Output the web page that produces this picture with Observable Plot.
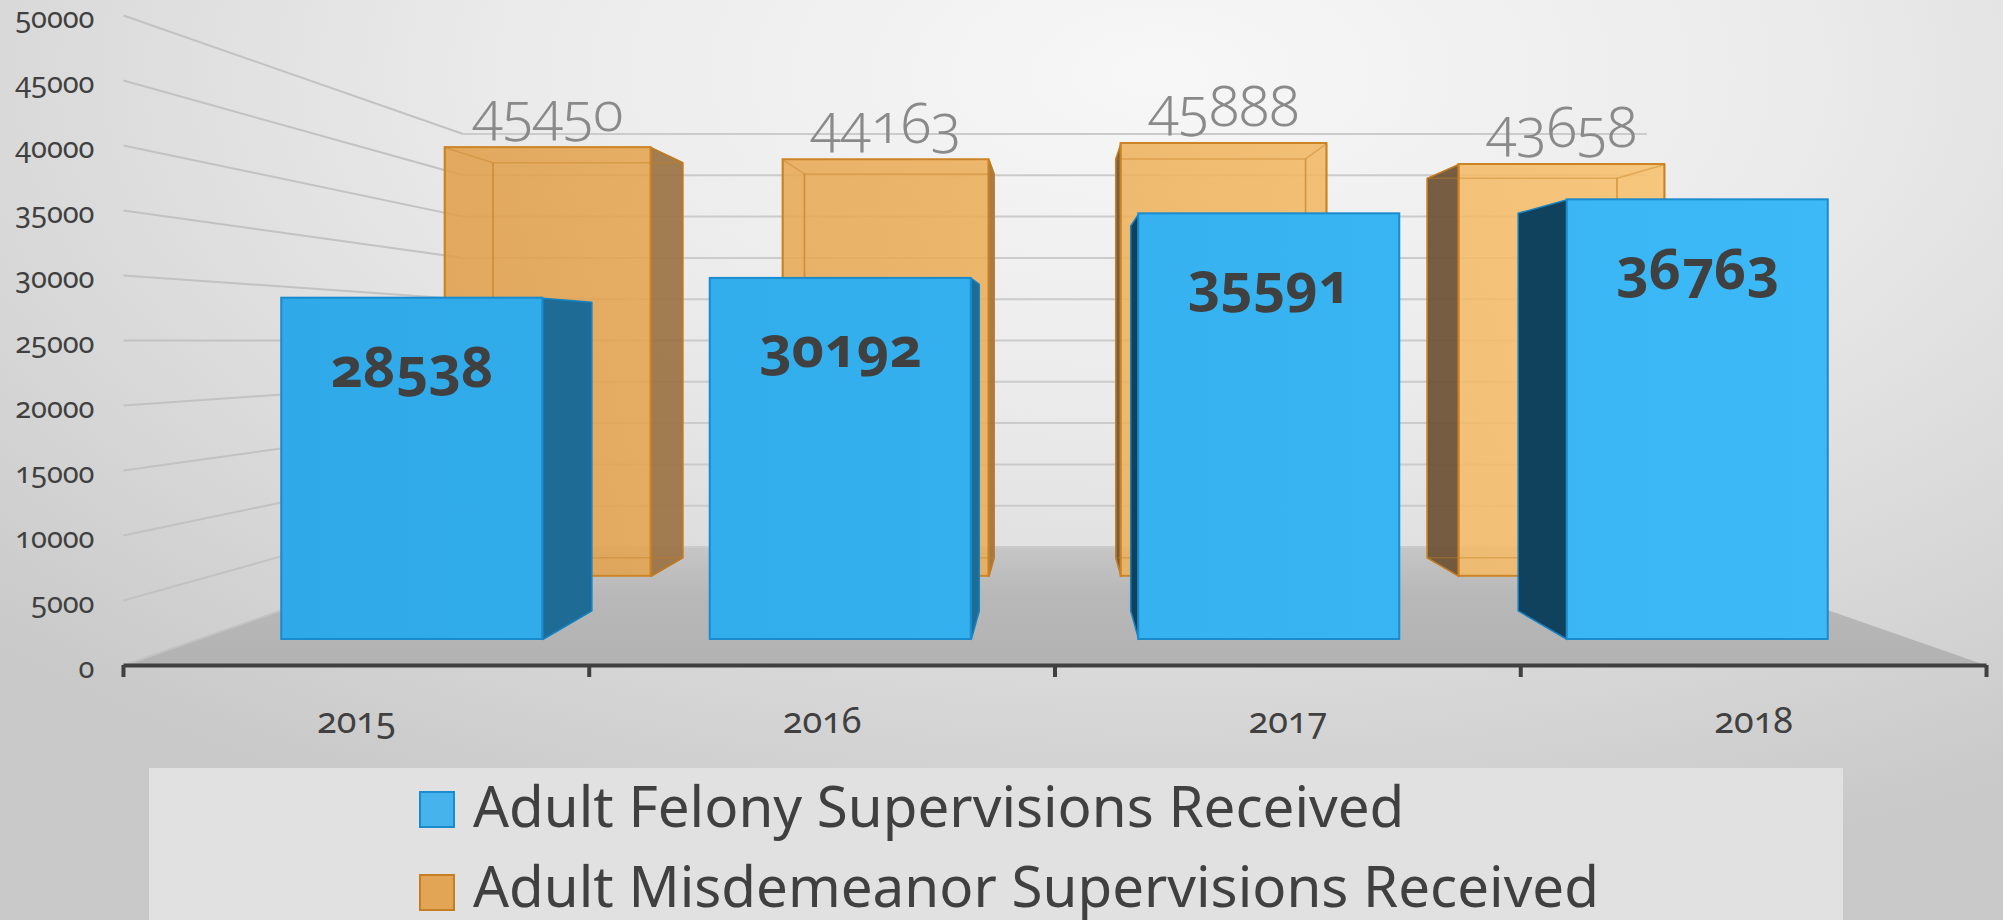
<!DOCTYPE html>
<html><head><meta charset="utf-8">
<script src="https://cdn.jsdelivr.net/npm/d3@7"></script>
<script src="https://cdn.jsdelivr.net/npm/@observablehq/plot@0.6"></script>
<style>
html,body{margin:0;padding:0;width:2003px;height:920px;overflow:hidden;}
body{position:relative;background:radial-gradient(ellipse 80% 90% at 58% 8%, #f7f7f7 0%, #ebebeb 40%, #d6d6d6 78%, #c9c9c9 100%);font-family:"Noto Sans",sans-serif;}
#chart svg{display:block;}
svg text{font-variant-numeric:oldstyle-nums;}
#legend{position:absolute;left:149px;top:768px;width:1694px;height:152px;background:#e1e1e1;}
.sw{position:absolute;left:270px;width:36px;height:37px;box-sizing:border-box;}
.lt{position:absolute;left:324px;font-size:56.5px;line-height:56px;color:#404040;white-space:nowrap;}
</style></head><body>
<div id="chart"></div>
<div id="legend"></div>
<script>
// ---- data ----
const years = ["2015", "2016", "2017", "2018"];
const felony = [28538, 30192, 35591, 36763];
const misdemeanor = [45450, 44163, 45888, 43658];
const seriesNames = ["Adult Felony Supervisions Received", "Adult Misdemeanor Supervisions Received"];
const yTicks = [0, 5000, 10000, 15000, 20000, 25000, 30000, 35000, 40000, 45000, 50000];

// ---- layout (3D perspective, depths in camera units) ----
const W = 2003, H = 768;
const VX = 1.5, VY = 25000;             // vanishing point (center of front plane)
const Z = {edge: -0.08, felFront: 0, felBack: 0.106, misFront: 0.268, misBack: 0.376, wall: 0.448};
const HALF = 0.3046;                     // half bar width in category units
const proj = (X, Y, z) => { const s = 1 / (1 + z); return [VX + (X - VX) * s, VY + (Y - VY) * s]; };
const idx = years.map((_, i) => i);
const bounds = [-0.5, 0.5, 1.5, 2.5, 3.5];

function box(i, v, z0, z1) {
  const l = i - HALF, r = i + HALF;
  const q = pts => pts.map(([X, Y, z]) => proj(X, Y, z));
  return {
    front: q([[l,0,z0],[r,0,z0],[r,v,z0],[l,v,z0]]),
    back:  q([[l,0,z1],[r,0,z1],[r,v,z1],[l,v,z1]]),
    left:  q([[l,0,z0],[l,0,z1],[l,v,z1],[l,v,z0]]),
    right: q([[r,0,z0],[r,0,z1],[r,v,z1],[r,v,z0]])
  };
}
const toRows = faces => faces.flatMap(f => f.pts.map(([x, y]) => ({id: f.id, x, y, fill: f.fill})));
const sideOf = i => (i < VX ? "right" : "left");

const misBoxes = idx.map(i => box(i, misdemeanor[i], Z.misFront, Z.misBack));
const felBoxes = idx.map(i => box(i, felony[i], Z.felFront, Z.felBack));

const misHidden = toRows(idx.flatMap(i => ["back", "left", "right"].map(k => ({id: "m" + i + k, pts: misBoxes[i][k]}))));
const misSide = toRows(idx.map(i => ({id: "ms" + i, pts: misBoxes[i][sideOf(i)], fill: i < VX ? "#9b7343" : "#6c5134"})));
const felSide = toRows(idx.map(i => ({id: "fs" + i, pts: felBoxes[i][sideOf(i)], fill: i < VX ? "#1e6c95" : "#11425d"})));
const floor = toRows([{id: "floor", pts: [proj(-0.5,0,Z.edge), proj(3.5,0,Z.edge), proj(3.5,0,Z.wall), proj(-0.5,0,Z.wall)]}]);

const svg = Plot.plot({
  width: W, height: H,
  marginLeft: 197.5, marginRight: 91.5, marginTop: 41, marginBottom: 129,
  x: {type: "linear", domain: [-0.5, 3.5], axis: null},
  y: {type: "linear", domain: [0, 50000], axis: null},
  color: {type: "identity"},
  style: {background: "transparent", overflow: "visible"},
  marks: [
    Plot.line(floor, {x: "x", y: "y", z: "id", fill: "url(#floorGrad)", stroke: "none", curve: "linear-closed"}),
    // left wall grid
    Plot.link(yTicks, {x1: v => proj(-0.5, v, Z.edge)[0], y1: v => proj(-0.5, v, Z.edge)[1],
                        x2: v => proj(-0.5, v, Z.wall)[0], y2: v => proj(-0.5, v, Z.wall)[1],
                        stroke: "#c2c2c2", strokeWidth: 2}),
    // back wall grid
    Plot.link(yTicks, {x1: v => proj(-0.5, v, Z.wall)[0], y1: v => proj(-0.5, v, Z.wall)[1],
                        x2: v => proj(3.5, v, Z.wall)[0], y2: v => proj(3.5, v, Z.wall)[1],
                        stroke: "#cbcbcb", strokeWidth: 2}),
    // misdemeanor boxes (back row, translucent)
    Plot.line(misSide, {x: "x", y: "y", z: "id", fill: "fill", fillOpacity: 0.92, stroke: "#c07a22", strokeWidth: 1.5, curve: "linear-closed"}),
    Plot.rect(idx, {x1: i => misBoxes[i].front[0][0], x2: i => misBoxes[i].front[1][0],
                    y1: i => misBoxes[i].front[0][1], y2: i => misBoxes[i].front[2][1],
                    fill: "url(#orangeGrad)", fillOpacity: 0.86, stroke: "#cd8426", strokeWidth: 2}),
    Plot.line(misHidden, {x: "x", y: "y", z: "id", fill: "none", stroke: "#c47c20", strokeOpacity: 0.4, strokeWidth: 1.5, curve: "linear-closed"}),
    // felony boxes (front row)
    Plot.line(felSide, {x: "x", y: "y", z: "id", fill: "fill", stroke: "#1683c2", strokeWidth: 1.5, curve: "linear-closed"}),
    Plot.rect(idx, {x1: i => i - HALF, x2: i => i + HALF, y1: 0, y2: i => felony[i],
                    fill: "url(#blueGrad)", stroke: "#1a8bcc", strokeWidth: 2}),
    // x axis
    Plot.link([0], {x1: () => proj(-0.5, 0, Z.edge)[0], y1: () => proj(-0.5, 0, Z.edge)[1],
                    x2: () => proj(3.5, 0, Z.edge)[0], y2: () => proj(3.5, 0, Z.edge)[1],
                    stroke: "#404040", strokeWidth: 4}),
    Plot.ruleX(bounds, {x: b => proj(b, 0, Z.edge)[0], y1: b => proj(b, 0, Z.edge)[1], y2: b => proj(b, 0, Z.edge)[1],
                        insetBottom: -12, stroke: "#404040", strokeWidth: 4}),
    Plot.text(idx, {x: i => proj(i, 0, Z.edge)[0], y: i => proj(i, 0, Z.edge)[1], text: i => years[i],
                    dy: 56, fontSize: 36, fill: "#404040", fontFamily: "Noto Sans"}),
    // y tick labels
    Plot.text(yTicks, {x: v => proj(-0.5, v, Z.edge)[0], y: v => proj(-0.5, v, Z.edge)[1], text: v => String(v),
                       textAnchor: "end", dx: -29, dy: 3, fontSize: 29, fill: "#404040", fontFamily: "Noto Sans"}),
    // data labels
    Plot.text(idx, {x: i => i, y: i => felony[i], text: i => String(felony[i]),
                    dy: 71, fontSize: 56, fontWeight: "bold", fill: "#404040", fontFamily: "Noto Sans"}),
    Plot.text(idx, {x: i => proj(i, misdemeanor[i], Z.misFront)[0], y: i => proj(i, misdemeanor[i], Z.misFront)[1],
                    text: i => String(misdemeanor[i]), dy: -35, fontSize: 56, fontWeight: 300, fill: "#8a8a8a", fontFamily: "Noto Sans"})
  ]
});

const defs = d3.select(svg).insert("defs", ":first-child");
function grad(id, attrs, stops) {
  const g = defs.append("linearGradient").attr("id", id);
  for (const k in attrs) g.attr(k, attrs[k]);
  stops.forEach(([o, c]) => g.append("stop").attr("offset", o).attr("stop-color", c));
}
grad("floorGrad", {x1: 0, y1: 0, x2: 0, y2: 1}, [[0, "#c6c6c6"], [0.4, "#b8b8b8"], [1, "#b2b2b2"]]);
grad("blueGrad", {gradientUnits: "userSpaceOnUse", x1: 280, y1: 0, x2: 1830, y2: 0}, [[0, "#2fa9e8"], [1, "#3cb9f6"]]);
grad("orangeGrad", {gradientUnits: "userSpaceOnUse", x1: 440, y1: 0, x2: 1670, y2: 0}, [[0, "#e09e48"], [1, "#f8c06a"]]);
document.getElementById("chart").appendChild(svg);

// legend
const legend = d3.select("#legend");
const legendColors = [{fill: "#47b3ec", stroke: "#1a8bcc"}, {fill: "#e2a555", stroke: "#c47f22"}];
seriesNames.forEach((name, k) => {
  legend.append("div").attr("class", "sw")
    .style("top", (23 + k * 83) + "px")
    .style("background", legendColors[k].fill)
    .style("border", "2.5px solid " + legendColors[k].stroke);
  legend.append("div").attr("class", "lt").style("top", (10 + k * 80) + "px").text(name);
});
</script></body></html>
